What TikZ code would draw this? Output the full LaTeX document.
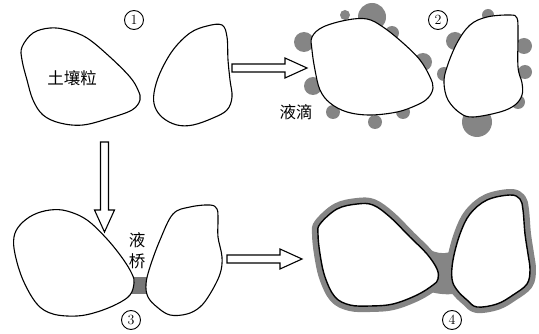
\documentclass[tikz,border=0pt]{standalone}
\usepackage{fontspec}
\newfontfamily\cjk{Noto Sans CJK SC}
\definecolor{dropgray}{gray}{0.52}
\begin{document}
\begin{tikzpicture}[x=1pt,y=-1pt,
  grain/.style={draw=black, line width=1.1pt, fill=white, line join=round},
  drop/.style={fill=dropgray},
  film/.style={draw=dropgray, line width=12pt, line join=round},
  blockarrow/.style={draw=black, line width=1.1pt, fill=white, line join=miter},
  cjklabel/.style={font=\cjk\fontsize{16.5}{16.5}\selectfont, inner sep=0pt},
  num/.style={circle, draw, line width=0.9pt, inner sep=0pt, minimum size=19pt,
              font=\fontsize{14}{14}\selectfont},
  pics/hollowarrow/.style={code={
    \draw[blockarrow] (0,-4) -- (#1-22,-4) -- (#1-22,-10) -- (#1,0)
      -- (#1-22,10) -- (#1-22,4) -- (0,4) -- cycle;
  }}
]
\useasboundingbox (0,0) rectangle (539,334);

% ---------- stage 1: two dry soil grains ----------
\draw[grain] plot[smooth cycle, tension=0.6] coordinates {
  (22,47) (33,33) (50,28) (67,30) (87,38) (110,57) (130,77) (138,90)
  (140,100) (132,110) (110,118) (83,125) (60,123) (43,115) (33,100) (27,80) (22,60)};
\draw[grain] plot[smooth cycle, tension=0.6] coordinates {
  (222,25) (227,37) (228,60) (230,80) (232,97) (227,110) (213,118) (193,125)
  (177,125) (163,118) (155,107) (154,93) (160,73) (173,50) (190,33) (207,26)};
\node[cjklabel] (soil) at (72,78) {土壤粒};
\node[num] (n1) at (134,20) {1};

% ---------- stage 2: droplets on the grain surfaces ----------
\foreach \p/\r in {(345,15)/5, (372,17)/14, (392,33)/7, (304,42)/10, (423,62)/9,
                   (313,86)/9, (333,112)/7, (375,122)/7, (403,112)/7,
                   (488,15)/6, (455,41)/9, (524,46)/8, (444,74)/7, (525,72)/7,
                   (518,102)/7, (477,122)/15}
  \fill[drop] \p circle[radius=\r pt];
\draw[grain] plot[smooth cycle, tension=0.6] coordinates {
  (312,37) (323,27) (347,20) (367,19) (383,27) (403,43) (420,60) (430,77)
  (433,88) (428,98) (417,105) (397,112) (370,115) (347,112) (330,103) (320,90)
  (315,70) (312,50)};
\draw[grain] plot[smooth cycle, tension=0.6] coordinates {
  (470,25) (487,17) (510,15) (517,18) (518,33) (518,67) (522,83) (522,95)
  (515,105) (500,112) (473,117) (460,113) (448,100) (444,83) (447,67) (457,43)};
\node[cjklabel] (droplet) at (296,112) {液滴};
\node[num] (n2) at (438,20) {2};

% ---------- stage 3: liquid bridge ----------
\fill[dropgray!90!black] (126,277) -- (155,277) -- (155,294) -- (126,294) -- cycle;
\draw[grain] plot[smooth cycle, tension=0.6] coordinates {
  (20,225) (33,215) (50,210) (67,211) (87,220) (107,239) (123,259) (132,274)
  (134,283) (130,295) (117,304) (97,312) (77,316) (53,314) (37,304) (23,280)
  (15,254) (14,237)};
\draw[grain] plot[smooth cycle, tension=0.6] coordinates {
  (173,214) (190,207) (210,205) (217,209) (218,220) (218,237) (222,257) (220,274)
  (210,294) (200,307) (187,314) (170,315) (157,307) (148,297) (146,284) (150,267)
  (160,240)};
\node[cjklabel] (bridge1) at (137,240) {液};
\node[cjklabel] (bridge2) at (137,261) {桥};
\node[num] (n3) at (131,320) {3};

% ---------- stage 4: continuous water film ----------
\fill[drop] (424,246) .. controls (437,256) and (451,256) .. (466,243)
  -- (470,290) .. controls (455,296) and (437,296) .. (420,288) -- cycle;
\draw[film] plot[smooth cycle, tension=0.6] coordinates {
  (320,224) (337,209) (357,204) (373,205) (390,217) (410,237) (427,254) (437,269)
  (438,279) (433,285) (417,295) (393,304) (370,306) (350,305) (335,297) (325,277)
  (320,254) (318,234)};
\draw[film] plot[smooth cycle, tension=0.6] coordinates {
  (470,214) (487,200) (510,195) (520,199) (523,210) (525,234) (528,254) (530,270)
  (527,284) (513,295) (497,304) (477,307) (467,300) (457,290) (452,279) (453,260)
  (460,234)};
\draw[grain, line width=1.4pt] plot[smooth cycle, tension=0.6] coordinates {
  (320,224) (337,209) (357,204) (373,205) (390,217) (410,237) (427,254) (437,269)
  (438,279) (433,285) (417,295) (393,304) (370,306) (350,305) (335,297) (325,277)
  (320,254) (318,234)};
\draw[grain, line width=1.4pt] plot[smooth cycle, tension=0.6] coordinates {
  (470,214) (487,200) (510,195) (520,199) (523,210) (525,234) (528,254) (530,270)
  (527,284) (513,295) (497,304) (477,307) (467,300) (457,290) (452,279) (453,260)
  (460,234)};
\node[num] (n4) at (452,320) {4};

% ---------- process arrows ----------
\pic at (232,68) {hollowarrow=75};
\pic[rotate=-90] at (104.5,142) {hollowarrow=90};
\pic at (227,259) {hollowarrow=75};
\end{tikzpicture}
\end{document}
